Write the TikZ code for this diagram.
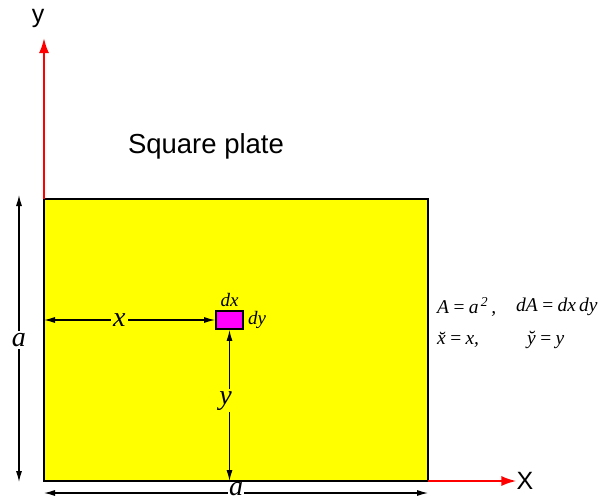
\documentclass[tikz,border=0pt]{standalone}
\usepackage{fontspec}
\setmainfont{Liberation Serif}
\setsansfont{Liberation Sans}
\usetikzlibrary{arrows.meta}
\definecolor{plateyellow}{RGB}{255,255,0}
\definecolor{elemmagenta}{RGB}{255,0,255}
\definecolor{axisred}{RGB}{255,0,0}

\begin{document}
\begin{tikzpicture}[x=1pt, y=-1pt,
  dim/.style={{Latex[length=11pt,width=6pt]}-{Latex[length=11pt,width=6pt]}, line width=1.1pt},
  axis/.style={axisred, line width=2.2pt, -{Latex[length=15pt,width=10pt]}},
  lbl/.style={font=\fontsize{28}{30}\selectfont\itshape, inner sep=2pt, fill=#1},
  lbl/.default=plateyellow,
  small/.style={font=\fontsize{19}{21}\selectfont\itshape, inner sep=0pt},
  eqn/.style={font=\fontsize{19.5}{21}\selectfont\itshape, inner sep=0pt, anchor=west},
  axlbl/.style={font=\sffamily\fontsize{25}{27}\selectfont, inner sep=0pt}]
\useasboundingbox (0,0) rectangle (599,501);
% plate and element
\coordinate (O) at (44,481);
\coordinate (P) at (428,199);
\draw[fill=plateyellow, line width=2.4pt] (O) rectangle (P);
\node[draw, fill=elemmagenta, line width=1.8pt, minimum width=27pt, minimum height=18pt, inner sep=0pt] (dA) at (229.5,320) {};
\node[small, anchor=south] (dx) at ([yshift=3pt]dA.north) {dx};
\node[small, anchor=west] (dy) at ([xshift=4pt]dA.east) {dy};
\node[axlbl, font=\sffamily\fontsize{27.5}{30}\selectfont] (title) at (206,146) {Square plate};
% axes
\node[axlbl] (X) at (525,481) {X};
\node[axlbl] (Y) at (38,18) {y};
\coordinate (ytip) at (44,38);
\draw[axis] (O -| P) -- (X.west);
\draw[axis] (O |- P) -- (ytip);
% dimensions
\coordinate (a1) at (19,195);
\coordinate (a2) at (19,482);
\coordinate (b1) at (44,493);
\coordinate (b2) at (428,493);
\draw[dim] (a1) -- node[lbl=white, pos=0.505] {a} (a2);
\draw[dim] (b1) -- node[lbl=white, inner sep=1pt, yshift=3.5pt] {a} (b2);
\draw[dim] (dA.west -| O) -- node[lbl, pos=0.44] {x} (dA.west);
\draw[dim] (dA.south |- O) -- node[lbl, pos=0.53, xshift=-4pt] {y} (dA.south);
% formulas
\node[eqn] (eqA) at (437,307) {A\,=\,a\textsuperscript{\,2}\,,};
\node[eqn] (eqdA) at (516,307) {dA\,=\,dx\,dy};
\node[eqn] (eqx) at (437,340) {\u{x}\,=\,x,};
\node[eqn] (eqy) at (527,340) {\u{y}\,=\,y};
\end{tikzpicture}
\end{document}
